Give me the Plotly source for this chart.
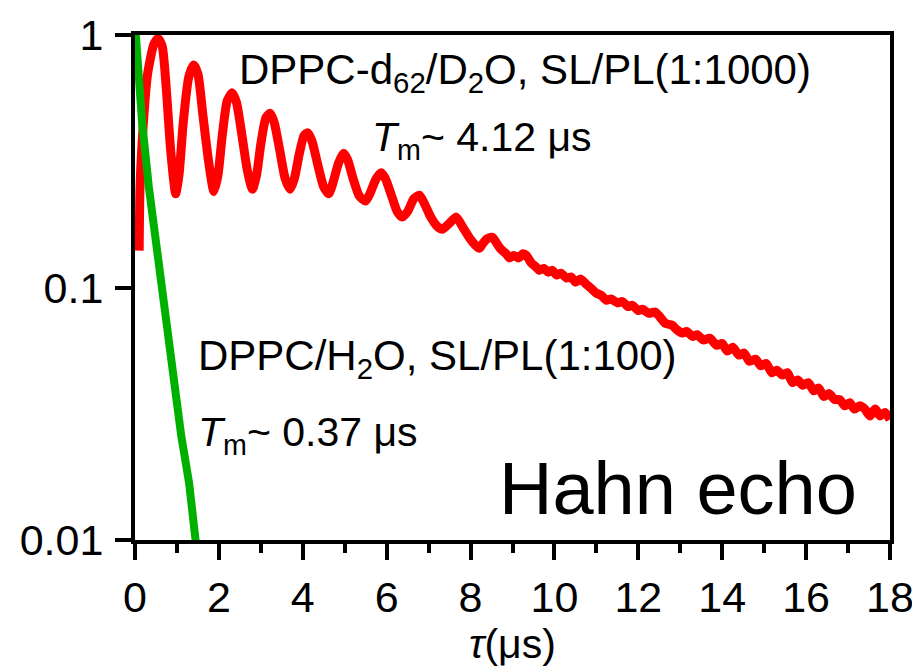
import plotly.graph_objects as go

# Red: DPPC-d62/D2O, SL/PL(1:1000)
red_x = [0.10, 0.12, 0.20, 0.30, 0.45, 0.55, 0.65, 0.75, 0.85, 0.97,
         1.05, 1.15, 1.28, 1.40, 1.50, 1.62, 1.75, 1.88, 1.98, 2.08,
         2.20, 2.32, 2.42, 2.55, 2.68, 2.80, 2.90, 3.00, 3.12, 3.22,
         3.32, 3.45, 3.58, 3.70, 3.80, 3.92, 4.03, 4.12, 4.22, 4.35,
         4.50, 4.62, 4.72, 4.85, 4.97, 5.07, 5.20, 5.35, 5.50, 5.60,
         5.75, 5.87, 5.97, 6.12, 6.25, 6.37, 6.50, 6.65, 6.78, 6.90,
         7.05, 7.20, 7.33, 7.50, 7.66, 7.80,
         8.00, 8.10, 8.21, 8.30, 8.40, 8.52, 8.62, 8.72, 8.85, 8.93,
         9.03, 9.15, 9.25, 9.33, 9.45, 9.55, 9.64, 9.75, 9.85, 9.95,
         10.05, 10.15, 10.29, 10.40, 10.50, 10.62, 10.76, 10.88, 11.00, 11.12,
         11.24, 11.35, 11.50, 11.62, 11.75, 11.86, 12.00, 12.10, 12.25, 12.40,
         12.50, 12.65, 12.80, 12.92, 13.05, 13.15, 13.30, 13.40, 13.55, 13.70,
         13.87, 14.00, 14.12, 14.25, 14.40, 14.52, 14.65, 14.80, 14.92, 15.05,
         15.18, 15.30, 15.44, 15.55, 15.68, 15.80, 15.92, 16.05, 16.18, 16.30,
         16.42, 16.55, 16.68, 16.80, 16.92, 17.04, 17.15, 17.28, 17.40, 17.52,
         17.65, 17.76, 17.88, 18.00]
red_y = [0.14, 0.25, 0.45, 0.70, 0.92, 0.97, 0.90, 0.60, 0.35, 0.235,
         0.28, 0.45, 0.68, 0.76, 0.70, 0.48, 0.32, 0.24, 0.28, 0.40,
         0.55, 0.59, 0.54, 0.40, 0.29, 0.245, 0.28, 0.37, 0.47, 0.49,
         0.45, 0.35, 0.27, 0.245, 0.27, 0.34, 0.40, 0.41, 0.38, 0.31,
         0.25, 0.235, 0.26, 0.31, 0.34, 0.32, 0.27, 0.23, 0.22, 0.235,
         0.27, 0.285, 0.27, 0.23, 0.20, 0.19, 0.20, 0.225, 0.232, 0.215,
         0.19, 0.175, 0.17, 0.18, 0.19, 0.175,
         0.155, 0.148, 0.143, 0.150, 0.156, 0.158, 0.150, 0.142, 0.136, 0.131,
         0.134, 0.131, 0.136, 0.134, 0.125, 0.121, 0.117, 0.119, 0.115, 0.117,
         0.112, 0.114, 0.109, 0.110, 0.105, 0.108, 0.103, 0.099, 0.095, 0.093,
         0.089, 0.090, 0.087, 0.088, 0.084, 0.085, 0.081, 0.082, 0.079, 0.080,
         0.077, 0.072, 0.071, 0.068, 0.066, 0.067, 0.064, 0.065, 0.062, 0.063,
         0.059, 0.060, 0.056, 0.058, 0.054, 0.055, 0.051, 0.052, 0.049, 0.050,
         0.046, 0.047, 0.045, 0.046, 0.042, 0.043, 0.041, 0.042, 0.039, 0.040,
         0.037, 0.038, 0.036, 0.036, 0.034, 0.035, 0.033, 0.034, 0.033, 0.031,
         0.033, 0.031, 0.032, 0.030]

# Green: DPPC/H2O, SL/PL(1:100)
green_x = [0.02, 0.08, 0.17, 0.33, 0.50, 0.65, 0.80, 0.93, 1.10, 1.29, 1.45]
green_y = [1.00, 0.70, 0.45, 0.25, 0.15, 0.10, 0.062, 0.042, 0.026, 0.0168, 0.0098]

x_ticks = [0, 2, 4, 6, 8, 10, 12, 14, 16, 18]
y_ticks = [0.01, 0.1, 1]
y_ticklabels = ["0.01", "0.1", "1"]

FONT = "Arial, Liberation Sans, sans-serif"

fig = go.Figure()
fig.add_trace(go.Scatter(x=red_x, y=red_y, mode="lines",
                         line=dict(color="#ff0000", width=9, shape="spline", smoothing=0.6),
                         showlegend=False))
fig.add_trace(go.Scatter(x=green_x, y=green_y, mode="lines",
                         line=dict(color="#00b000", width=8), showlegend=False))

L, R, T, B = 135, 22, 35, 127
W, H = 912, 667
pw, ph = W - L - R, H - T - B

def px(xp):
    return (xp - L) / pw

def py(yp):
    return (H - B - yp) / ph

annots = [
    ("DPPC-d<sub>62</sub>/D<sub>2</sub>O, SL/PL(1:1000)", 237, 73, 42),
    ("<i>T</i><sub>m</sub>~ 4.12 μs", 370, 140, 41),
    ("DPPC/H<sub>2</sub>O, SL/PL(1:100)", 196, 358, 42),
    ("<i>T</i><sub>m</sub>~ 0.37 μs", 196, 435, 41),
    ("Hahn echo", 497, 488, 74),
]
for text, xp, yp, size in annots:
    fig.add_annotation(text=text, xref="paper", yref="paper", x=px(xp), y=py(yp),
                       xanchor="left", yanchor="middle", showarrow=False,
                       font=dict(family=FONT, size=size, color="black"))

fig.update_layout(
    width=W, height=H,
    margin=dict(l=L, r=R, t=T, b=B, pad=0, autoexpand=False),
    paper_bgcolor="white", plot_bgcolor="white",
    font=dict(family=FONT, color="black"),
    showlegend=False,
)
fig.update_xaxes(
    range=[0, 18], tickvals=x_ticks, ticktext=[str(v) for v in x_ticks],
    showgrid=False, zeroline=False, automargin=False,
    showline=True, linecolor="black", linewidth=4, mirror=True,
    ticks="outside", ticklen=16, tickwidth=4, tickcolor="black",
    tickfont=dict(size=43, family=FONT), ticklabeloverflow="allow",
    minor=dict(ticks="outside", ticklen=9, tickwidth=4, tickcolor="black", dtick=1, showgrid=False),
    title=dict(text="<i>τ</i>(μs)", font=dict(size=41, family=FONT), standoff=8),
)
fig.update_yaxes(
    type="log", range=[-2, 0], tickvals=y_ticks, ticktext=y_ticklabels,
    showgrid=False, zeroline=False, automargin=False,
    showline=True, linecolor="black", linewidth=4, mirror=True,
    ticks="outside", ticklen=16, tickwidth=4, tickcolor="black",
    tickfont=dict(size=43, family=FONT), ticklabelstandoff=3,
)

fig.write_html("out.html")
